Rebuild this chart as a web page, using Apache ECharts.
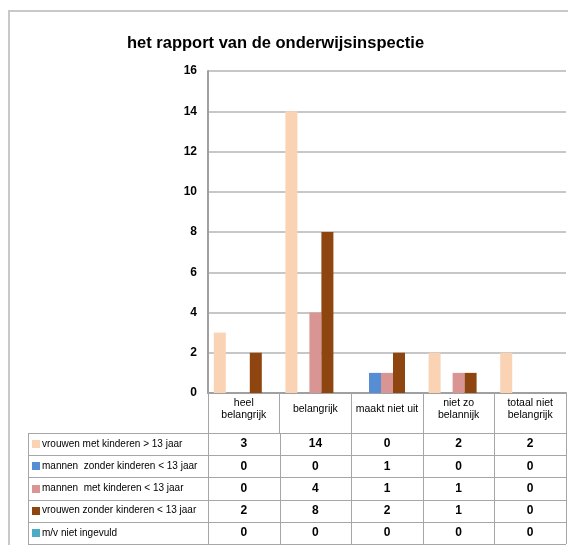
<!DOCTYPE html>
<html>
<head>
    <meta charset="UTF-8">
    <title>het rapport van de onderwijsinspectie</title>
    <style>
        html, body { margin: 0; padding: 0; background: #fff; }
        #main { width: 568px; height: 545px; }
    </style>
</head>
<body>
<div id="main"></div>
<script src="https://cdn.jsdelivr.net/npm/echarts@6/dist/echarts.min.js"></script>
<script>
    // data
    var categories = ['heel\nbelangrijk', 'belangrijk', 'maakt niet uit', 'niet zo\nbelannijk', 'totaal niet\nbelangrijk'];
    var seriesNames = [
        'vrouwen met kinderen > 13 jaar',
        'mannen  zonder kinderen < 13 jaar',
        'mannen  met kinderen < 13 jaar',
        'vrouwen zonder kinderen < 13 jaar',
        'm/v niet ingevuld'
    ];
    var vrouwenMetKinderen = [3, 14, 0, 2, 2];
    var mannenZonderKinderen = [0, 0, 1, 0, 0];
    var mannenMetKinderen = [0, 4, 1, 1, 0];
    var vrouwenZonderKinderen = [2, 8, 2, 1, 0];
    var nietIngevuld = [0, 0, 0, 0, 0];
    var colors = ['#fad2b4', '#558ed5', '#d99594', '#8e4510', '#4bacc6'];

    var allValues = [vrouwenMetKinderen, mannenZonderKinderen, mannenMetKinderen, vrouwenZonderKinderen, nietIngevuld];

    var FONT = "'Liberation Sans', Arial, sans-serif";
    var gridLeft = 208, gridRight = 2, gridTop = 71, gridBottom = 152;
    var W = 568, H = 545;
    var plotW = W - gridLeft - gridRight;
    var colW = plotW / categories.length;
    var tableLeft = 28, tableTop = 433, rowH = 22.2;

    var myChart = echarts.init(document.getElementById('main'), null, {renderer: 'canvas'});

    var series = [];
    for (var i = 0; i < seriesNames.length; i++) {
        series.push({
            name: seriesNames[i],
            type: 'bar',
            data: allValues[i],
            barWidth: 12,
            barGap: '0%',
            itemStyle: {color: colors[i]}
        });
    }

    // tabel onder de grafiek
    var graphics = [];
    // kader
    graphics.push({
        type: 'polyline',
        shape: {points: [[9, H], [9, 11], [W, 11]]},
        style: {stroke: '#c8c8c8', lineWidth: 2, fill: null}
    });
    var lineColor = '#a6a6a6';
    var tableRight = gridLeft + plotW;
    for (var r = 0; r <= seriesNames.length; r++) {
        var y = Math.round(tableTop + r * rowH) + 0.5;
        graphics.push({
            type: 'line',
            shape: {x1: tableLeft, y1: y, x2: tableRight, y2: y},
            style: {stroke: lineColor, lineWidth: 1}
        });
    }
    var vx = [tableLeft];
    for (var c = 0; c <= categories.length; c++) vx.push(gridLeft + c * colW);
    vx.forEach(function (x) {
        x = Math.round(x) + 0.5;
        graphics.push({
            type: 'line',
            shape: {x1: x, y1: tableTop, x2: x, y2: tableTop + seriesNames.length * rowH},
            style: {stroke: lineColor, lineWidth: 1}
        });
    });
    for (var s = 0; s < seriesNames.length; s++) {
        var cy = tableTop + (s + 0.5) * rowH;
        graphics.push({
            type: 'rect',
            shape: {x: 32, y: Math.round(cy) - 4, width: 8, height: 8},
            style: {fill: colors[s]}
        });
        graphics.push({
            type: 'text',
            x: 42, y: cy,
            style: {text: seriesNames[s], font: '10px ' + FONT, fill: '#000', verticalAlign: 'middle'}
        });
        for (var k = 0; k < categories.length; k++) {
            graphics.push({
                type: 'text',
                x: gridLeft + (k + 0.5) * colW, y: cy,
                style: {
                    text: String(allValues[s][k]), font: 'bold 12px ' + FONT, fill: '#000',
                    align: 'center', verticalAlign: 'middle'
                }
            });
        }
    }

    var option = {
        animation: false,
        backgroundColor: '#fff',
        color: colors,
        title: {
            text: 'het rapport van de onderwijsinspectie',
            left: 122,
            top: 30,
            textStyle: {fontSize: 16.5, fontWeight: 'bold', fontFamily: FONT, color: '#000'}
        },
        grid: {left: gridLeft, right: gridRight, top: gridTop, bottom: gridBottom, containLabel: false},
        xAxis: {
            type: 'category',
            data: categories,
            axisLine: {lineStyle: {color: '#a0a0a0', width: 2}},
            axisTick: {show: true, length: 40, lineStyle: {color: lineColor, width: 1}},
            axisLabel: {
                interval: 0,
                margin: 16,
                verticalAlign: 'middle',
                fontSize: 10.5,
                lineHeight: 12,
                fontFamily: FONT,
                color: '#000'
            }
        },
        yAxis: {
            type: 'value',
            min: 0,
            max: 16,
            interval: 2,
            axisLine: {show: true, lineStyle: {color: '#a0a0a0', width: 2}},
            axisTick: {show: false},
            splitLine: {lineStyle: {color: '#b4b4b4', width: 1.5}},
            axisLabel: {margin: 11, fontSize: 12, fontWeight: 'bold', fontFamily: FONT, color: '#000'}
        },
        series: series,
        graphic: graphics
    };

    myChart.setOption(option);
</script>
</body>
</html>
